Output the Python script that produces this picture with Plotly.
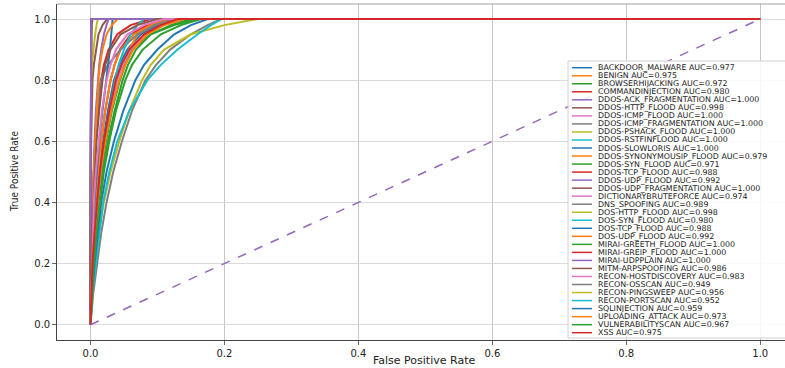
import plotly.graph_objects as go

# ---------------- data ----------------
class_names = [
    "BACKDOOR_MALWARE", "BENIGN", "BROWSERHIJACKING", "COMMANDINJECTION",
    "DDOS-ACK_FRAGMENTATION", "DDOS-HTTP_FLOOD", "DDOS-ICMP_FLOOD",
    "DDOS-ICMP_FRAGMENTATION", "DDOS-PSHACK_FLOOD", "DDOS-RSTFINFLOOD",
    "DDOS-SLOWLORIS", "DDOS-SYNONYMOUSIP_FLOOD", "DDOS-SYN_FLOOD",
    "DDOS-TCP_FLOOD", "DDOS-UDP_FLOOD", "DDOS-UDP_FRAGMENTATION",
    "DICTIONARYBRUTEFORCE", "DNS_SPOOFING", "DOS-HTTP_FLOOD", "DOS-SYN_FLOOD",
    "DOS-TCP_FLOOD", "DOS-UDP_FLOOD", "MIRAI-GREETH_FLOOD", "MIRAI-GREIP_FLOOD",
    "MIRAI-UDPPLAIN", "MITM-ARPSPOOFING", "RECON-HOSTDISCOVERY", "RECON-OSSCAN",
    "RECON-PINGSWEEP", "RECON-PORTSCAN", "SQLINJECTION", "UPLOADING_ATTACK",
    "VULNERABILITYSCAN", "XSS",
]
auc_values = [
    0.977, 0.975, 0.972, 0.980, 1.000, 0.998, 1.000, 1.000, 1.000, 1.000,
    1.000, 0.979, 0.971, 0.988, 0.992, 1.000, 0.974, 0.989, 0.998, 0.980,
    0.988, 0.992, 1.000, 1.000, 1.000, 0.986, 0.983, 0.949, 0.956, 0.952,
    0.959, 0.973, 0.967, 0.975,
]

# shared true-positive-rate grid
tpr_grid = [0, 0.1, 0.2, 0.3, 0.4, 0.5, 0.6, 0.7, 0.8, 0.85, 0.9, 0.95, 0.98, 1.0, 1.0]

# false positive rate of each class at the tpr grid points
fpr_backdoor = [0, 0.001, 0.003, 0.005, 0.009, 0.013, 0.019, 0.026, 0.035, 0.043, 0.055, 0.075, 0.100, 0.125, 1]
fpr_benign = [0, 0.001, 0.004, 0.007, 0.011, 0.016, 0.022, 0.029, 0.037, 0.050, 0.058, 0.070, 0.095, 0.125, 1]
fpr_browser = [0, 0.001, 0.004, 0.007, 0.011, 0.016, 0.023, 0.032, 0.044, 0.052, 0.062, 0.090, 0.125, 0.160, 1]
fpr_cmdinj = [0, 0.001, 0.002, 0.004, 0.007, 0.011, 0.016, 0.022, 0.030, 0.036, 0.044, 0.060, 0.085, 0.115, 1]
fpr_ddos_ack = [0, 0, 0, 0, 0, 0, 0, 0, 0, 0, 0, 0, 0, 0.001, 1]
fpr_ddos_http = [0, 0, 0, 0, 0, 0.001, 0.001, 0.002, 0.003, 0.005, 0.008, 0.012, 0.018, 0.025, 1]
fpr_ddos_icmp = [0, 0, 0, 0, 0, 0, 0, 0, 0, 0, 0, 0, 0.001, 0.002, 1]
fpr_ddos_icmpfrag = [0, 0, 0, 0, 0, 0, 0, 0, 0, 0, 0, 0.001, 0.002, 0.003, 1]
fpr_ddos_pshack = [0, 0, 0, 0, 0, 0, 0, 0, 0, 0, 0, 0, 0, 0.001, 1]
fpr_ddos_rstfin = [0, 0, 0, 0, 0, 0, 0, 0, 0, 0, 0, 0, 0.001, 0.002, 1]
fpr_ddos_slowloris = [0, 0, 0, 0, 0, 0, 0, 0, 0, 0, 0, 0, 0, 0.001, 1]
fpr_ddos_synonym = [0, 0.001, 0.002, 0.004, 0.007, 0.011, 0.016, 0.022, 0.030, 0.036, 0.045, 0.065, 0.090, 0.120, 1]
fpr_ddos_syn = [0, 0.002, 0.004, 0.008, 0.012, 0.018, 0.026, 0.036, 0.048, 0.056, 0.068, 0.090, 0.120, 0.150, 1]
fpr_ddos_tcp = [0, 0, 0.001, 0.002, 0.003, 0.005, 0.008, 0.011, 0.016, 0.020, 0.027, 0.040, 0.060, 0.090, 1]
fpr_ddos_udp = [0, 0, 0.001, 0.002, 0.003, 0.004, 0.006, 0.008, 0.011, 0.013, 0.016, 0.020, 0.024, 0.027, 1]
fpr_ddos_udpfrag = [0, 0, 0, 0, 0, 0, 0, 0, 0, 0, 0, 0.001, 0.001, 0.002, 1]
fpr_dictionary = [0, 0.001, 0.003, 0.006, 0.010, 0.015, 0.021, 0.030, 0.040, 0.048, 0.060, 0.082, 0.110, 0.140, 1]
fpr_dns = [0, 0, 0.001, 0.002, 0.003, 0.005, 0.007, 0.010, 0.015, 0.026, 0.045, 0.070, 0.095, 0.125, 1]
fpr_dos_http = [0, 0, 0, 0, 0, 0, 0, 0.001, 0.001, 0.002, 0.004, 0.007, 0.009, 0.011, 1]
fpr_dos_syn = [0, 0.001, 0.003, 0.006, 0.010, 0.015, 0.021, 0.028, 0.037, 0.042, 0.050, 0.060, 0.070, 0.080, 1]
fpr_dos_tcp = [0, 0.001, 0.002, 0.004, 0.006, 0.009, 0.013, 0.018, 0.024, 0.027, 0.029, 0.031, 0.032, 0.033, 1]
fpr_dos_udp = [0, 0, 0.001, 0.002, 0.003, 0.005, 0.007, 0.009, 0.012, 0.014, 0.018, 0.024, 0.032, 0.040, 1]
fpr_mirai_greeth = [0, 0, 0, 0, 0, 0, 0, 0, 0, 0, 0, 0, 0.001, 0.001, 1]
fpr_mirai_greip = [0, 0, 0, 0, 0, 0, 0, 0, 0, 0, 0, 0.001, 0.001, 0.002, 1]
fpr_mirai_udpplain = [0, 0, 0, 0, 0, 0, 0, 0, 0, 0, 0, 0, 0, 0.001, 1]
fpr_mitm = [0, 0, 0.001, 0.002, 0.004, 0.006, 0.009, 0.013, 0.018, 0.022, 0.030, 0.045, 0.070, 0.100, 1]
fpr_recon_host = [0, 0.001, 0.002, 0.003, 0.005, 0.008, 0.012, 0.017, 0.024, 0.030, 0.038, 0.055, 0.080, 0.110, 1]
fpr_recon_os = [0, 0.004, 0.010, 0.016, 0.024, 0.034, 0.047, 0.062, 0.082, 0.098, 0.119, 0.150, 0.175, 0.195, 1]
fpr_recon_ping = [0, 0.002, 0.006, 0.012, 0.020, 0.030, 0.043, 0.058, 0.077, 0.090, 0.110, 0.150, 0.200, 0.250, 1]
fpr_recon_port = [0, 0.003, 0.008, 0.013, 0.019, 0.028, 0.040, 0.058, 0.085, 0.105, 0.130, 0.160, 0.180, 0.196, 1]
fpr_sqlinj = [0, 0.002, 0.006, 0.011, 0.016, 0.024, 0.035, 0.049, 0.067, 0.080, 0.100, 0.125, 0.150, 0.175, 1]
fpr_uploading = [0, 0.001, 0.003, 0.006, 0.010, 0.015, 0.022, 0.031, 0.043, 0.052, 0.064, 0.085, 0.110, 0.140, 1]
fpr_vulnscan = [0, 0.002, 0.005, 0.009, 0.014, 0.020, 0.028, 0.038, 0.052, 0.062, 0.078, 0.105, 0.135, 0.165, 1]
fpr_xss = [0, 0.001, 0.003, 0.006, 0.010, 0.014, 0.020, 0.028, 0.038, 0.046, 0.058, 0.080, 0.105, 0.130, 1]

fpr_curves = [
    fpr_backdoor, fpr_benign, fpr_browser, fpr_cmdinj, fpr_ddos_ack,
    fpr_ddos_http, fpr_ddos_icmp, fpr_ddos_icmpfrag, fpr_ddos_pshack,
    fpr_ddos_rstfin, fpr_ddos_slowloris, fpr_ddos_synonym, fpr_ddos_syn,
    fpr_ddos_tcp, fpr_ddos_udp, fpr_ddos_udpfrag, fpr_dictionary, fpr_dns,
    fpr_dos_http, fpr_dos_syn, fpr_dos_tcp, fpr_dos_udp, fpr_mirai_greeth,
    fpr_mirai_greip, fpr_mirai_udpplain, fpr_mitm, fpr_recon_host,
    fpr_recon_os, fpr_recon_ping, fpr_recon_port, fpr_sqlinj, fpr_uploading,
    fpr_vulnscan, fpr_xss,
]

chance_x = [0, 1]
chance_y = [0, 1]
tick_vals = [0.0, 0.2, 0.4, 0.6, 0.8, 1.0]
tick_text = ["0.0", "0.2", "0.4", "0.6", "0.8", "1.0"]
x_title = "False Positive Rate"
y_title = "True Positive Rate"

# ---------------- style ----------------
palette = ["#1f77b4", "#ff7f0e", "#2ca02c", "#d62728", "#9467bd",
           "#8c564b", "#e377c2", "#7f7f7f", "#bcbd22", "#17becf"]

W, H = 785, 368
ML, MR, MT, MB = 57, 0, 4, 28
PW, PH = W - ML - MR, H - MT - MB

def px_x(p):
    return (p - ML) / PW

def px_y(p):
    return (H - MB - p) / PH

fig = go.Figure()
for i, (name, fpr) in enumerate(zip(class_names, fpr_curves)):
    fig.add_trace(go.Scatter(
        x=fpr, y=tpr_grid, mode="lines", name=name,
        line=dict(color=palette[i % 10], width=2),
        showlegend=False, hoverinfo="skip"))

fig.add_trace(go.Scatter(
    x=chance_x, y=chance_y, mode="lines",
    line=dict(color="#9467bd", width=1.5, dash="dash"),
    showlegend=False, hoverinfo="skip"))

shapes = []
annotations = []
# top frame line
shapes.append(dict(type="line", xref="paper", yref="paper", x0=0, x1=1, y0=1, y1=1,
                   line=dict(color="#a0a0a0", width=1.2), layer="above"))
# legend box
shapes.append(dict(type="rect", xref="paper", yref="paper",
                   x0=px_x(568), x1=px_x(800), y0=px_y(338), y1=px_y(61),
                   fillcolor="rgba(255,255,255,0.85)",
                   line=dict(color="#d0d0d0", width=1), layer="above"))
row0, row_step = 67.7, 8.03
for i, (name, auc) in enumerate(zip(class_names, auc_values)):
    yc = px_y(row0 + row_step * i)
    shapes.append(dict(type="line", xref="paper", yref="paper",
                       x0=px_x(572), x1=px_x(592), y0=yc, y1=yc,
                       line=dict(color=palette[i % 10], width=1.5), layer="above"))
    annotations.append(dict(xref="paper", yref="paper", x=px_x(597), y=yc,
                            xanchor="left", yanchor="middle", showarrow=False,
                            borderpad=0,
                            text=f"{name} AUC={auc:.3f}",
                            font=dict(family="DejaVu Sans", size=7.9, color="#222")))

# axis titles
annotations.append(dict(xref="paper", yref="paper", x=px_x(424), y=px_y(360),
                        xanchor="center", yanchor="middle", showarrow=False, borderpad=0,
                        text=x_title,
                        font=dict(family="DejaVu Sans", size=11, color="#222")))
annotations.append(dict(xref="paper", yref="paper", x=px_x(14), y=px_y(172),
                        xanchor="center", yanchor="middle", showarrow=False, borderpad=0,
                        textangle=-90, text=y_title,
                        font=dict(family="Liberation Sans Narrow, DejaVu Sans Condensed, Arial Narrow, sans-serif",
                                  size=10, color="#222")))

fig.update_layout(
    width=W, height=H,
    margin=dict(l=ML, r=MR, t=MT, b=MB, pad=0, autoexpand=False),
    paper_bgcolor="white", plot_bgcolor="white",
    shapes=shapes, annotations=annotations,
    font=dict(family="DejaVu Sans", color="#222"),
    xaxis=dict(range=[-0.05, 1.037], tickvals=tick_vals, ticktext=tick_text,
               automargin=False,
               showgrid=True, gridcolor="#b8b8b8", gridwidth=0.8,
               zeroline=False, showline=True, linecolor="#444", linewidth=1.3,
               ticks="outside", ticklen=3.5, tickcolor="#444", tickwidth=0.8,
               tickfont=dict(size=10, family="DejaVu Sans", color="#222")),
    yaxis=dict(range=[-0.05, 1.04907], tickvals=tick_vals, ticktext=tick_text,
               automargin=False,
               showgrid=True, gridcolor="#dadada", gridwidth=1,
               zeroline=False, showline=True, linecolor="#444", linewidth=1.3,
               ticks="outside", ticklen=3.5, tickcolor="#444", tickwidth=0.8,
               tickfont=dict(size=10, family="DejaVu Sans", color="#222")),
)

fig.write_html("out.html",
               config={"displayModeBar": False, "staticPlot": True},
               post_script="document.body.style.margin='0';document.body.style.overflow='hidden';")
